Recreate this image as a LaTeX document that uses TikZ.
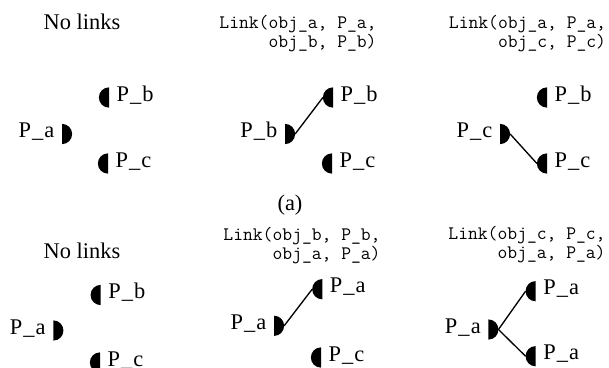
\documentclass[tikz,border=0pt]{standalone}
\usepackage{fontspec}
\setmainfont{Liberation Serif}
\usetikzlibrary{positioning}
\newcommand{\pn}[1]{P\kern0.8pt\_\kern0.8pt#1}

\begin{document}
\begin{tikzpicture}[x=0.75pt, y=-0.75pt,
    font=\fontsize{16.8}{20}\selectfont,
    portl/.style={anchor=east, minimum width=7.6pt, minimum height=15.2pt, inner sep=0pt, outer sep=0pt,
        path picture={\fill (path picture bounding box.north east) arc[start angle=90, end angle=270, radius=7.6pt] -- cycle;}},
    portr/.style={anchor=west, minimum width=7.6pt, minimum height=15.2pt, inner sep=0pt, outer sep=0pt,
        path picture={\fill (path picture bounding box.north west) arc[start angle=90, end angle=-90, radius=7.6pt] -- cycle;}},
    lbl/.style={inner sep=0pt, text height=5.3pt, text depth=0pt},
    linktxt/.style={font=\ttfamily\fontsize{14.3}{11.2}\selectfont, align=right, inner sep=0pt},
    wire/.style={line width=1pt}]
    \useasboundingbox (0,0) rectangle (609,367);

    \node (nl1) at (82,22) {No links};
    \node[portl] (pb1) at (109,97.5) {};
    \node[portr] (pa1) at (62,134) {};
    \node[portl] (pc1) at (108,163.5) {};
    \node[lbl, right=5.5pt of pb1] (tb1) {\pn{b}};
    \node[lbl, left=5.5pt of pa1] (ta1) {\pn{a}};
    \node[lbl, right=5.5pt of pc1] (tc1) {\pn{c}};

    \node[linktxt] (lk2) at (298,34) {Link(obj\_a, P\_a,\\obj\_b, P\_b)};
    \node[portl] (pb2) at (333,97.5) {};
    \node[portr] (pl2) at (285,134) {};
    \node[portl] (pc2) at (332,163.5) {};
    \node[lbl, right=5.5pt of pb2] (tb2) {\pn{b}};
    \node[lbl, left=5.5pt of pl2] (tl2) {\pn{b}};
    \node[lbl, right=5.5pt of pc2] (tc2) {\pn{c}};
    \draw[wire] (pl2.east) -- (pb2.west);

    \node[linktxt] (lk3) at (527.5,34) {Link(obj\_a, P\_a,\\obj\_c, P\_c)};
    \node[portl] (pb3) at (547,97.5) {};
    \node[portr] (pl3) at (500,134) {};
    \node[portl] (pc3) at (547,163.5) {};
    \node[lbl, right=5.5pt of pb3] (tb3) {\pn{b}};
    \node[lbl, left=5.5pt of pl3] (tl3) {\pn{c}};
    \node[lbl, right=5.5pt of pc3] (tc3) {\pn{c}};
    \draw[wire] (pl3.east) -- (pc3.west);

    \node (cap) at (290,205) {(a)};

    \node (nl4) at (82,250.5) {No links};
    \node[portl] (pb4) at (100.7,295) {};
    \node[portr] (pa4) at (53.3,330.5) {};
    \node[portl] (pc4) at (100,362.5) {};
    \node[lbl, right=5.5pt of pb4] (tb4) {\pn{b}};
    \node[lbl, left=5.5pt of pa4] (ta4) {\pn{a}};
    \node[lbl, right=5.5pt of pc4] (tc4) {\pn{c}};

    \node[linktxt] (lk5) at (302,246) {Link(obj\_b, P\_b,\\obj\_a, P\_a)};
    \node[portl] (pu5) at (322.3,289.2) {};
    \node[portr] (pl5) at (274,325.8) {};
    \node[portl] (pc5) at (321,357.5) {};
    \node[lbl, right=5.5pt of pu5] (tu5) {\pn{a}};
    \node[lbl, left=5.5pt of pl5] (tl5) {\pn{a}};
    \node[lbl, right=5.5pt of pc5] (tc5) {\pn{c}};
    \draw[wire] (pl5.east) -- (pu5.west);

    \node[linktxt] (lk6) at (527,245) {Link(obj\_c, P\_c,\\obj\_a, P\_a)};
    \node[portl] (pu6) at (535.7,291.2) {};
    \node[portr] (pl6) at (488.3,329.5) {};
    \node[portl] (pd6) at (535.7,356.2) {};
    \node[lbl, right=5.5pt of pu6] (tu6) {\pn{a}};
    \node[lbl, left=5.5pt of pl6] (tl6) {\pn{a}};
    \node[lbl, right=5.5pt of pd6] (td6) {\pn{a}};
    \draw[wire] (pl6.east) -- (pu6.west);
    \draw[wire] (pl6.east) -- (pd6.west);
\end{tikzpicture}
\end{document}
